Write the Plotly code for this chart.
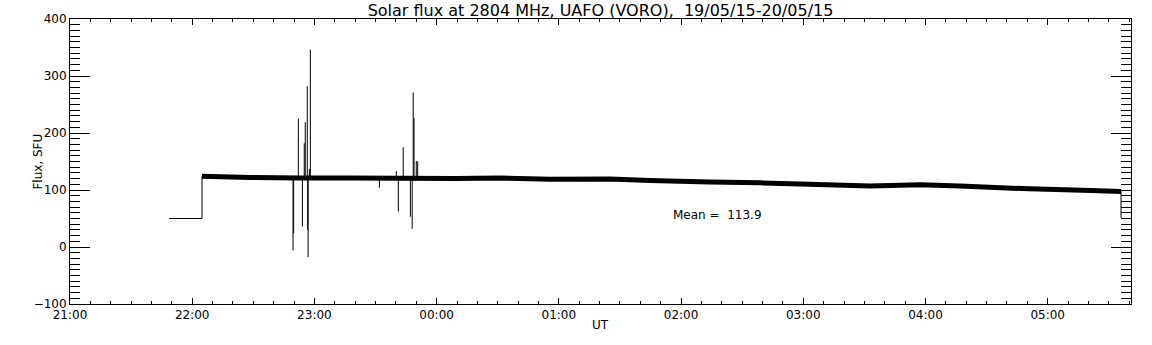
import numpy as np
import pandas as pd
import plotly.graph_objects as go

# ---- data (minutes after 2015-05-19 21:00 UT, flux in SFU) ----
T0 = pd.Timestamp("2015-05-19 21:00")

# initial flat segment and step
pre_min = [48.6, 64.8]
pre_val = [50, 50]

# baseline of the noisy flux band
band_min = [64.8, 88.4, 113.0, 137.5, 162.0, 189.0, 211.0, 235.7, 265.0, 284.8,
            314.0, 339.0, 358.5, 392.8, 417.4, 437.0, 471.0, 501.0, 516.0]
band_val = [124.0, 122.0, 121.0, 121.0, 120.5, 120.0, 121.0, 119.0, 119.5, 116.5,
            114.0, 112.5, 110.5, 107.0, 109.0, 107.0, 102.0, 99.0, 97.5]

# end drop
end_min = [516.0, 516.0]
end_val = [97.5, 51.0]

# interference spikes (time, tip value), drawn from the band level
spike_min = [109.5, 109.8, 112.1, 114.1, 115.0, 115.5, 116.5, 116.7, 116.9, 117.5, 118.0,
             151.9, 160.2, 161.2, 163.6, 167.1, 168.0, 168.5, 168.9, 170.0, 170.7]
spike_val = [-6, 24, 225, 36, 182, 219, 282, 30, -18, 137, 346,
             104, 133, 62, 175, 53, 32, 271, 226, 151, 150]
SPIKE_BASE = 121

mean_value = 113.9
title_text = "Solar flux at 2804 MHz, UAFO (VORO),\u00a0\u00a019/05/15-20/05/15"

y_range = [-100, 400]
x_range_min = [0, 520.9]


def to_time(m):
    return T0 + pd.to_timedelta(np.asarray(m, dtype=float), unit="min")


fig = go.Figure()

fig.add_trace(go.Scatter(x=to_time(pre_min + [pre_min[-1]]), y=pre_val + [band_val[0]],
                         mode="lines", line=dict(color="black", width=1),
                         showlegend=False, hoverinfo="skip"))

fig.add_trace(go.Scatter(x=to_time(band_min), y=band_val, mode="lines",
                         line=dict(color="black", width=5, simplify=False),
                         showlegend=False))

sx, sy = [], []
for m, v in zip(spike_min, spike_val):
    t = to_time([m])[0]
    sx += [t, t, None]
    sy += [SPIKE_BASE, v, None]
fig.add_trace(go.Scatter(x=sx, y=sy, mode="lines",
                         line=dict(color="black", width=1, simplify=False),
                         showlegend=False, connectgaps=False))

fig.add_trace(go.Scatter(x=to_time(end_min), y=end_val, mode="lines",
                         line=dict(color="black", width=1), showlegend=False))

fig.add_annotation(x=to_time([295])[0], y=56, xref="x", yref="y",
                   text="Mean =\u00a0\u00a0%.1f" % mean_value, showarrow=False,
                   xanchor="left", yanchor="middle",
                   font=dict(family="DejaVu Sans", size=12, color="black"))

fig.add_annotation(x=0.5, y=-0.074, xref="paper", yref="paper", text="UT",
                   showarrow=False, xanchor="center", yanchor="middle",
                   font=dict(family="DejaVu Sans", size=12, color="black"))
fig.add_annotation(x=-0.031, y=0.5, xref="paper", yref="paper", text="Flux, SFU",
                   textangle=-90, showarrow=False, xanchor="center", yanchor="middle",
                   font=dict(family="DejaVu Sans", size=12, color="black"))

xr = to_time(x_range_min)
fig.update_layout(
    width=1152, height=345,
    margin=dict(l=70, r=21, t=19, b=41, autoexpand=False),
    paper_bgcolor="white", plot_bgcolor="white",
    font=dict(family="DejaVu Sans", size=12, color="black"),
    title=dict(text=title_text, x=0.5, xref="paper", y=1 - 10 / 345, yref="container",
               xanchor="center", yanchor="middle", automargin=False,
               font=dict(family="DejaVu Sans", size=16, color="black")),
    xaxis=dict(type="date", range=[xr[0], xr[1]], tickformat="%H:%M",
               tick0=T0, dtick=3600000, ticks="inside", ticklen=6, tickwidth=1,
               tickcolor="black", showline=True, linecolor="black", linewidth=1,
               mirror="ticks", showgrid=False, zeroline=False, automargin=False,
               minor=dict(dtick=600000, ticks="inside", ticklen=3, tickcolor="black",
                          showgrid=False)),
    yaxis=dict(range=y_range, dtick=100, ticks="inside", ticklen=20, tickwidth=1,
               tickcolor="black", showline=True, linecolor="black", linewidth=1,
               mirror="ticks", showgrid=False, zeroline=False, automargin=False,
               minor=dict(dtick=10, ticks="inside", ticklen=10, tickcolor="black",
                          showgrid=False)),
)

fig.write_html("out.html", config={"displayModeBar": False},
               post_script="document.body.style.margin='0';")
